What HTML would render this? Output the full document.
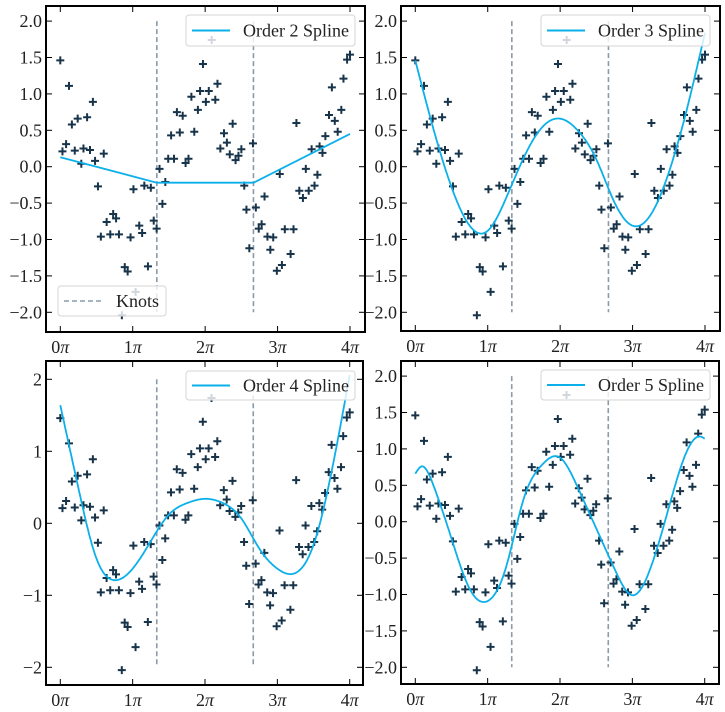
<!DOCTYPE html>
<html><head><meta charset="utf-8"><style>
body{margin:0;background:#fff;}
svg{display:block;font-family:"Liberation Serif",serif;}
</style></head><body>
<svg id="c" width="725" height="712" viewBox="0 0 725 712"></svg>
<script>
const dataX=[0.00,0.03,0.08,0.12,0.16,0.20,0.24,0.29,0.32,0.37,0.41,0.45,0.48,0.52,0.56,0.60,0.64,0.69,0.73,0.77,0.81,0.85,0.89,0.93,0.97,1.01,1.04,1.09,1.13,1.16,1.21,1.25,1.29,1.33,1.37,1.41,1.45,1.49,1.53,1.57,1.61,1.65,1.69,1.73,1.77,1.81,1.85,1.90,1.93,1.97,2.01,2.05,2.09,2.14,2.17,2.21,2.26,2.30,2.34,2.38,2.42,2.46,2.50,2.54,2.57,2.61,2.66,2.70,2.74,2.78,2.82,2.86,2.90,2.94,2.99,3.03,3.06,3.10,3.18,3.22,3.26,3.30,3.35,3.39,3.43,3.47,3.51,3.55,3.58,3.62,3.66,3.71,3.75,3.79,3.83,3.88,3.91,3.96,4.00];
const dataY=[1.46,0.21,0.31,1.11,0.58,0.22,0.66,0.04,0.25,0.68,0.23,0.89,0.08,-0.27,-0.96,0.18,-0.76,-0.93,-0.65,-0.71,-0.93,-2.04,-1.38,-1.44,-0.97,-0.31,-1.72,-0.81,-0.91,-0.26,-1.37,-0.29,-0.74,-0.85,-0.03,-0.51,-0.21,0.11,0.43,0.11,0.75,0.47,0.70,0.05,0.11,0.96,0.48,0.78,1.04,1.41,0.89,1.04,1.74,0.92,1.14,0.25,0.46,0.33,0.17,0.59,0.09,0.15,0.24,-0.26,-0.59,-1.12,0.32,-0.56,-0.85,-0.79,-0.41,-0.96,-1.14,-0.97,-1.43,-0.10,-1.35,-0.86,-1.20,-0.86,0.60,-0.33,-0.43,-0.03,-0.33,0.24,-0.26,-0.11,0.28,0.19,0.42,0.71,1.09,0.63,0.48,0.78,1.21,1.47,1.54];
const knots=[1.333,2.667];
const order2X=[0,1.333,2.667,4];
const order2Y=[0.13,-0.22,-0.22,0.45];
const order3X=[0,0.25,0.5,0.75,1,1.25,1.5,1.75,2,2.25,2.5,2.75,3,3.25,3.5,3.75,4];
const order3Y=[1.46,0.52,-0.28,-0.81,-0.88,-0.44,0.13,0.54,0.66,0.49,0.10,-0.49,-0.81,-0.66,-0.08,0.79,1.84];
const order4X=[0,0.25,0.5,0.75,1,1.25,1.5,1.75,2,2.25,2.5,2.75,3,3.25,3.5,3.75,4];
const order4Y=[1.64,0.49,-0.49,-0.79,-0.63,-0.25,0.12,0.28,0.34,0.28,0.07,-0.35,-0.63,-0.69,-0.30,0.72,2.06];
const order5X=[0,0.09,0.25,0.5,0.75,1,1.25,1.5,1.75,2,2.25,2.5,2.75,3,3.25,3.5,3.75,3.94,4];
const order5Y=[0.66,0.76,0.50,-0.23,-0.92,-1.09,-0.64,0.32,0.78,0.88,0.46,-0.09,-0.64,-1.01,-0.64,0.18,0.96,1.17,1.14];
const xTickVals=[0,1,2,3,4];
const xTickLabels=["0","1","2","3","4"];
const yTicksHalf=[2,1.5,1,0.5,0,-0.5,-1,-1.5,-2];
const yLabelsHalf=["2.0","1.5","1.0","0.5","0.0","\u22120.5","\u22121.0","\u22121.5","\u22122.0"];
const yTicksInt=[2,1,0,-1,-2];
const yLabelsInt=["2","1","0","\u22121","\u22122"];

const NS="http://www.w3.org/2000/svg";
const svg=document.getElementById('c');
function mk(tag,attrs,parent){const e=document.createElementNS(NS,tag);for(const k in attrs)e.setAttribute(k,attrs[k]);(parent||svg).appendChild(e);return e;}

function natSpline(X,Y){
  const n=X.length; if(n<3) return t=>{for(let i=0;i<n-1;i++){if(t<=X[i+1]){const u=(t-X[i])/(X[i+1]-X[i]);return Y[i]+u*(Y[i+1]-Y[i]);}}return Y[n-1];};
  const h=[],a=[],l=[1],mu=[0],z=[0],c=new Array(n).fill(0),b=[],d=[];
  for(let i=0;i<n-1;i++)h.push(X[i+1]-X[i]);
  for(let i=1;i<n-1;i++)a[i]=3/h[i]*(Y[i+1]-Y[i])-3/h[i-1]*(Y[i]-Y[i-1]);
  for(let i=1;i<n-1;i++){l[i]=2*(X[i+1]-X[i-1])-h[i-1]*mu[i-1];mu[i]=h[i]/l[i];z[i]=(a[i]-h[i-1]*z[i-1])/l[i];}
  l[n-1]=1;z[n-1]=0;
  for(let j=n-2;j>=0;j--){c[j]=z[j]-mu[j]*c[j+1];b[j]=(Y[j+1]-Y[j])/h[j]-h[j]*(c[j+1]+2*c[j])/3;d[j]=(c[j+1]-c[j])/(3*h[j]);}
  return t=>{let i=0;while(i<n-2&&t>X[i+1])i++;const dx=t-X[i];return Y[i]+b[i]*dx+c[i]*dx*dx+d[i]*dx*dx*dx;};
}

const panels=[
 {name:'order-2',fr:[46,6,365,332],x0:60.3,x4:350,y0:166.7,sc:72.8,yt:yTicksHalf,yl:yLabelsHalf,cx:order2X,cy:order2Y,linear:true,leg:[186,15,355,46],label:'Order 2 Spline',knotsLegend:true},
 {name:'order-3',fr:[401,6,720,331],x0:415.3,x4:705,y0:166.7,sc:72.8,yt:yTicksHalf,yl:yLabelsHalf,cx:order3X,cy:order3Y,leg:[541,15,710,46],label:'Order 3 Spline'},
 {name:'order-4',fr:[46,361,363,685],x0:60.3,x4:349.7,y0:523.3,sc:72,yt:yTicksInt,yl:yLabelsInt,cx:order4X,cy:order4Y,leg:[186,371,355,400],label:'Order 4 Spline'},
 {name:'order-5',fr:[401,361,719,684],x0:415.3,x4:704.7,y0:521.7,sc:72.8,yt:yTicksHalf,yl:yLabelsHalf,cx:order5X,cy:order5Y,leg:[541,370,710,400],label:'Order 5 Spline'}
];

panels.forEach(p=>{
  const g=mk('g',{});
  
  
  const X=v=>p.x0+v/4*(p.x4-p.x0);
  const Yp=v=>p.y0-v*p.sc;
  const [L,T,R,B]=p.fr;
  const clipId='clip-'+p.name;
  const cp=mk('clipPath',{id:clipId},g);mk('rect',{x:L,y:T,width:R-L,height:B-T},cp);
  // knots
  knots.forEach(k=>{
    const ln=mk('line',{x1:X(k),x2:X(k),y1:Yp(2),y2:Yp(-2),stroke:'#8a9aa8','stroke-width':1.6,'stroke-dasharray':'5,3'},g);
    
    
  });
  // points
  const pg=mk('g',{stroke:'#17344a','stroke-width':2},g);
  
  
  for(let i=0;i<dataX.length;i++){
    const cx=X(dataX[i]),cy=Yp(dataY[i]);
    const pt=mk('path',{d:`M${cx-4},${cy}H${cx+4}M${cx},${cy-4}V${cy+4}`},pg);
    
    
  }
  // curve
  let d='';
  if(p.linear){p.cx.forEach((v,i)=>{d+=(i?'L':'M')+X(v).toFixed(1)+','+Yp(p.cy[i]).toFixed(1);});}
  else{const f=natSpline(p.cx,p.cy);for(let i=0;i<=300;i++){const t=4*i/300;d+=(i?'L':'M')+X(t).toFixed(1)+','+Yp(f(t)).toFixed(1);}}
  const cv=mk('path',{d:d,fill:'none',stroke:'#0bb0ea','stroke-width':1.8,'clip-path':`url(#${clipId})`},g);
  
  
  // ticks
  xTickVals.forEach((v,i)=>{
    const x=X(v);
    mk('line',{x1:x,x2:x,y1:B,y2:B-6,stroke:'#000','stroke-width':1},g);
    mk('line',{x1:x,x2:x,y1:T,y2:T+6,stroke:'#000','stroke-width':1},g);
    const t=mk('text',{x:x,y:B+21,'text-anchor':'middle','font-size':18,fill:'#222'},g);
    
    
    t.textContent=xTickLabels[i];
    const ts=mk('tspan',{'font-style':'italic'},t);ts.textContent='\u03c0';
  });
  p.yt.forEach((v,i)=>{
    const y=Yp(v);
    mk('line',{x1:L,x2:L+6,y1:y,y2:y,stroke:'#000','stroke-width':1},g);
    mk('line',{x1:R,x2:R-6,y1:y,y2:y,stroke:'#000','stroke-width':1},g);
    const t=mk('text',{x:L-4,y:y+6,'text-anchor':'end','font-size':18,fill:'#222'},g);
    
    
    t.textContent=p.yl[i];
  });
  // frame
  const fr=mk('rect',{x:L,y:T,width:R-L,height:B-T,fill:'none',stroke:'#000','stroke-width':2},g);
  
  
  // legend
  const [a,b,c,e]=p.leg;
  const lg=mk('g',{},g);
  
  
  mk('rect',{x:a,y:b,width:c-a,height:e-b,rx:3,fill:'rgba(255,255,255,0.8)',stroke:'#d4d4d4'},lg);
  const my=(b+e)/2;
  mk('line',{x1:a+6,x2:a+44,y1:my,y2:my,stroke:'#0bb0ea','stroke-width':2},lg);
  const lt=mk('text',{x:a+57,y:my+6,'font-size':18,fill:'#222'},lg);
  
  
  lt.textContent=p.label;
  if(p.knotsLegend){
    const kg=mk('g',{},g);
    
    
    mk('rect',{x:58,y:286,width:108,height:30,rx:3,fill:'rgba(255,255,255,0.8)',stroke:'#d4d4d4'},kg);
    mk('line',{x1:64,x2:101,y1:301,y2:301,stroke:'#8a9aa8','stroke-width':1.6,'stroke-dasharray':'5,3'},kg);
    const kt=mk('text',{x:116,y:307,'font-size':18,fill:'#222'},kg);
    
    
    kt.textContent='Knots';
  }
});
</script>
</body></html>
